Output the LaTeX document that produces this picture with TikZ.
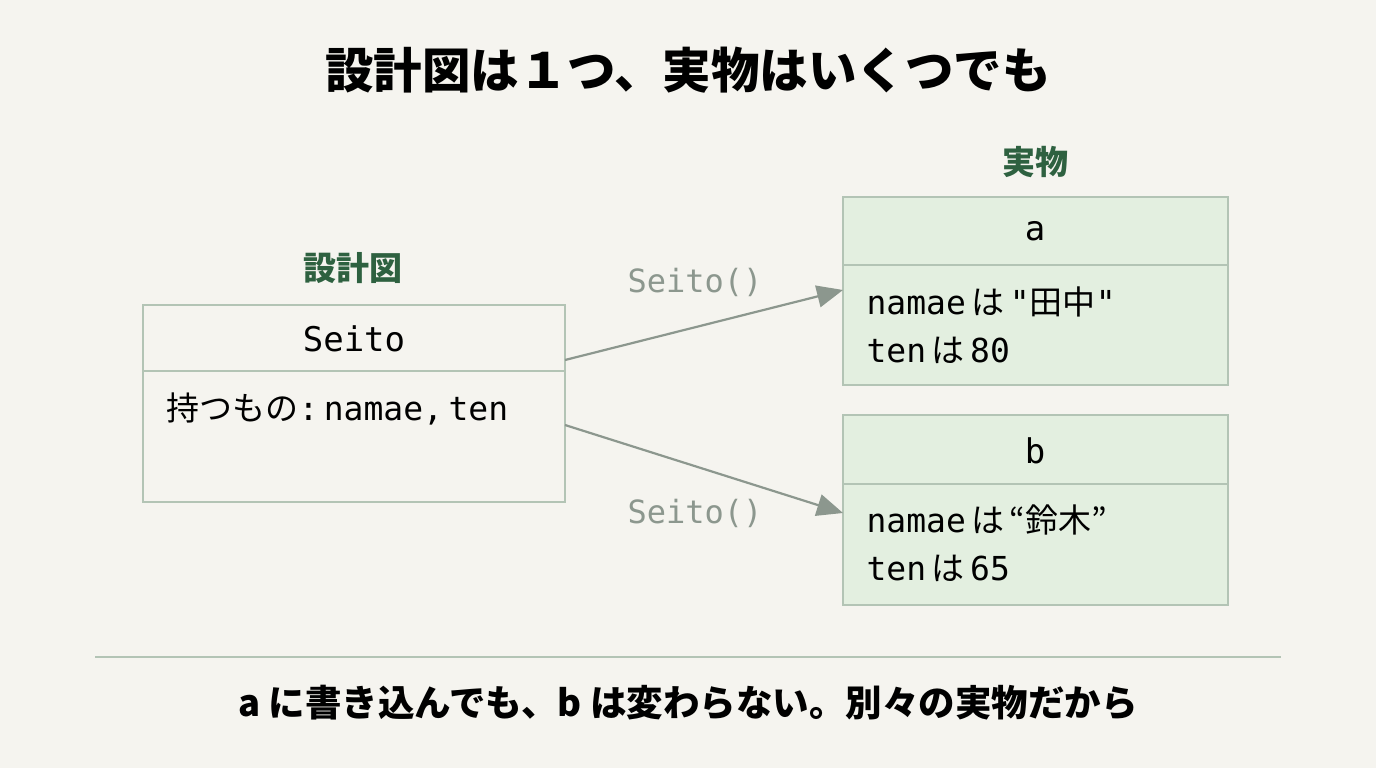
\documentclass[tikz,border=0pt]{standalone}
\usepackage{fontspec}
\setmainfont{Noto Sans CJK JP}
\newfontfamily\cjk{Noto Sans CJK JP}
\newfontfamily\mono{DejaVu Sans Mono}
\usetikzlibrary{arrows.meta}
\definecolor{bg}{HTML}{F5F4EF}
\definecolor{dg}{HTML}{2E6140}
\definecolor{bx}{HTML}{B3C4B5}
\definecolor{gf}{HTML}{E3EFE0}
\definecolor{ar}{HTML}{8C978E}
\begin{document}
\begin{tikzpicture}[x=1pt,y=-1pt,
  box/.style={draw=bx,line width=2pt},
  lab/.style={font=\cjk\bfseries\fontsize{33}{35}\selectfont,text=dg},
  txt/.style={font=\mono\fontsize{33}{48}\selectfont,anchor=west,align=left},
  arr/.style={draw=ar,line width=2.2pt,-{Triangle[length=26pt,width=22pt]}},
  alab/.style={font=\mono\fontsize{32}{34}\selectfont,text=ar}]
\fill[bg] (0,0) rectangle (1376,768);
\useasboundingbox (0,0) rectangle (1376,768);
\node[font=\cjk\bfseries\fontsize{48.5}{50}\selectfont] (title) at (688,70) {設計図は１つ、実物はいくつでも};
\node[lab] (l1) at (1035,162) {実物};
\node[lab] (l2) at (353,268) {設計図};
% Seito box
\draw[box] (143,305) rectangle (565,502);
\draw[box] (143,371) -- (565,371);
\node[font=\mono\fontsize{34}{36}\selectfont] (s) at (354,339) {Seito};
\node[txt] (sm) at (163,409) {{\cjk 持つもの}:\,namae,\,ten};
\coordinate (s1) at (565,360);
\coordinate (s2) at (565,425);
% a
\draw[box,fill=gf] (843,197) rectangle (1228,385);
\draw[box] (843,265) -- (1228,265);
\node[font=\mono\fontsize{34}{36}\selectfont] (an) at (1035,231) {a};
\node[txt] (ac) at (863,325) {namae\,{\cjk は}\,"{\cjk 田中}"\\ten\,{\cjk は}\,80};
\coordinate (a) at (843,290);
% b
\draw[box,fill=gf] (843,415) rectangle (1228,605);
\draw[box] (843,484) -- (1228,484);
\node[font=\mono\fontsize{34}{36}\selectfont] (bn) at (1035,451) {b};
\node[txt] (bc) at (863,543) {namae\,{\cjk は}\,{\cjk “鈴木”}\\ten\,{\cjk は}\,65};
\coordinate (b) at (843,513);
\draw[arr] (s1) -- (a);
\draw[arr] (s2) -- (b);
\node[alab] (t1) at (695,282) {Seito()};
\node[alab] (t2) at (695,513) {Seito()};
\draw[draw=bx,line width=2pt] (95,657) -- (1281,657);
\node[font=\cjk\bfseries\fontsize{36.5}{38}\selectfont] (bot) at (688,703) {a に書き込んでも、b は変わらない。別々の実物だから};
\end{tikzpicture}
\end{document}
